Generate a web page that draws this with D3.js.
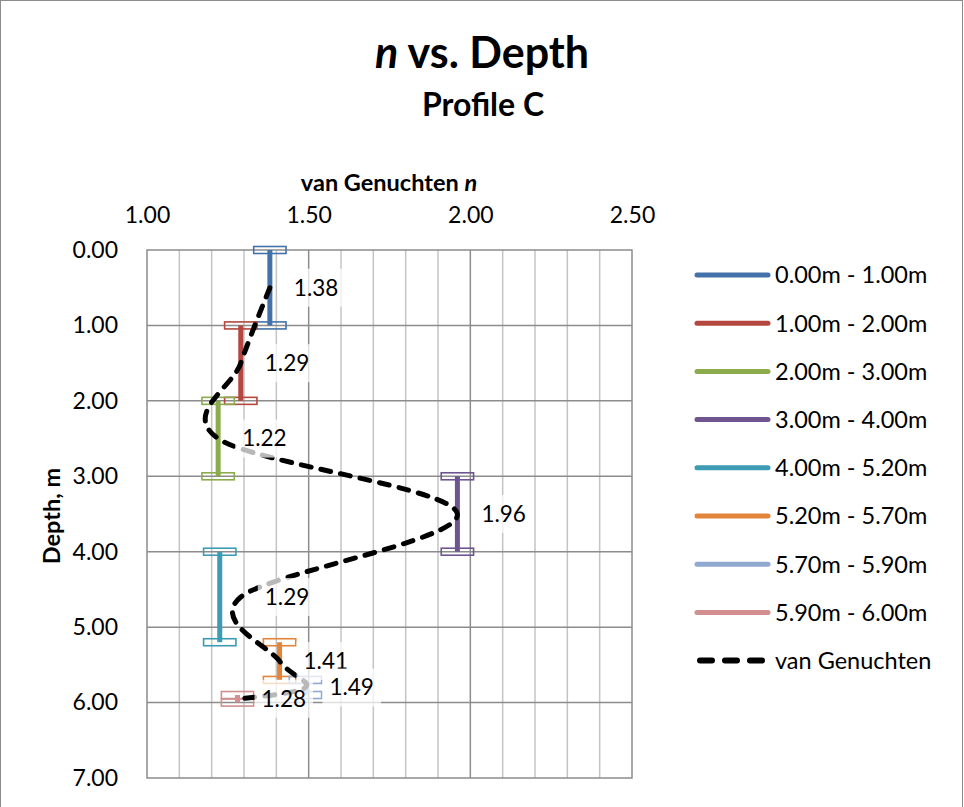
<!DOCTYPE html>
<html>
<head>
<meta charset="utf-8">
<script src="https://cdn.jsdelivr.net/npm/d3@7"></script>
<style>
  body { margin: 0; background: #fff; }
  text { font-family: Lato, "Open Sans", sans-serif; fill: #000; }
</style>
</head>
<body>
<svg id="chart" width="964" height="807"></svg>
<script>

// layers (depth ranges, m) and their n value
var layerNames = ["0.00m - 1.00m", "1.00m - 2.00m", "2.00m - 3.00m", "3.00m - 4.00m",
                  "4.00m - 5.20m", "5.20m - 5.70m", "5.70m - 5.90m", "5.90m - 6.00m"];
var layerTop    = [0.0, 1.0, 2.0, 3.0, 4.0, 5.2, 5.7, 5.9];
var layerBottom = [1.0, 2.0, 3.0, 4.0, 5.2, 5.7, 5.9, 6.0];
var layerN      = [1.38, 1.29, 1.22, 1.96, 1.225, 1.41, 1.49, 1.28];
var labelN      = [1.38, 1.29, 1.22, 1.96, 1.29, 1.41, 1.49, 1.28];
var layerColors = ["#4372aa", "#b4473f", "#8cab4c", "#6e5590", "#3e9bb4", "#e2853a", "#8fa9d1", "#d18f8f"];

// van Genuchten n curve (depth at layer middle)
var vgDepth = [0.5, 1.5, 2.5, 3.5, 4.6, 5.45, 5.8, 5.95];
var vgN     = [1.38, 1.29, 1.22, 1.96, 1.29, 1.41, 1.49, 1.28];

var xTicks = [1.0, 1.5, 2.0, 2.5];
var yTicks = [0, 1, 2, 3, 4, 5, 6, 7];

var svg = d3.select("#chart");

var x = d3.scaleLinear().domain([1, 2.5]).range([147, 632]);
var y = d3.scaleLinear().domain([0, 7]).range([250, 778]);

// frame
svg.append("rect")
  .attr("x", 0.5).attr("y", 0.5)
  .attr("width", 962).attr("height", 812)
  .attr("fill", "none").attr("stroke", "#8c8c8c");

// titles
var title = svg.append("text")
  .attr("x", 482).attr("y", 68)
  .attr("text-anchor", "middle")
  .style("font-size", "43px").style("font-weight", "bold");
title.append("tspan").style("font-style", "italic").text("n");
title.append("tspan").text(" vs. Depth");

svg.append("text")
  .attr("x", 483).attr("y", 116)
  .attr("text-anchor", "middle")
  .style("font-size", "32px").style("font-weight", "bold")
  .text("Profile C");

var xt = svg.append("text")
  .attr("x", 389).attr("y", 191)
  .attr("text-anchor", "middle")
  .style("font-size", "23.5px").style("font-weight", "bold");
xt.append("tspan").text("van Genuchten ");
xt.append("tspan").style("font-style", "italic").text("n");

svg.append("text")
  .attr("transform", "translate(60,516) rotate(-90)")
  .attr("text-anchor", "middle")
  .style("font-size", "23.5px").style("font-weight", "bold")
  .text("Depth, m");

// grid
var grid = svg.append("g");
var minor = d3.range(11, 25).map(function(d) { return d / 10; })
  .filter(function(d) { return Math.abs(d - 1.5) > 0.01 && Math.abs(d - 2.0) > 0.01; });

grid.selectAll("line.minor").data(minor).enter().append("line")
  .attr("x1", function(d) { return x(d); }).attr("x2", function(d) { return x(d); })
  .attr("y1", y(0)).attr("y2", y(7))
  .attr("stroke", "#c4c4c4").attr("stroke-width", 1.5);

grid.selectAll("line.vmajor").data([1.5, 2.0]).enter().append("line")
  .attr("x1", function(d) { return x(d); }).attr("x2", function(d) { return x(d); })
  .attr("y1", y(0)).attr("y2", y(7))
  .attr("stroke", "#8c8c8c").attr("stroke-width", 1.5);

grid.selectAll("line.hmajor").data(yTicks.slice(1, 7)).enter().append("line")
  .attr("x1", x(1)).attr("x2", x(2.5))
  .attr("y1", function(d) { return y(d); }).attr("y2", function(d) { return y(d); })
  .attr("stroke", "#8c8c8c").attr("stroke-width", 1.5);

grid.append("rect")
  .attr("x", x(1)).attr("y", y(0))
  .attr("width", x(2.5) - x(1)).attr("height", y(7) - y(0))
  .attr("fill", "none").attr("stroke", "#8c8c8c").attr("stroke-width", 1.5);

// axes
var fmt = d3.format(".2f");
var xAxisG = svg.append("g")
  .attr("transform", "translate(0," + (y(0) - 24) + ")")
  .call(d3.axisTop(x).tickValues(xTicks).tickFormat(fmt).tickSize(0));
xAxisG.select(".domain").remove();
xAxisG.selectAll("text").style("font-size", "23px").style("font-family", "Lato, sans-serif").attr("fill", "#000");

var yAxisG = svg.append("g")
  .attr("transform", "translate(" + (x(1) - 26) + ",0)")
  .call(d3.axisLeft(y).tickValues(yTicks).tickFormat(fmt).tickSize(0));
yAxisG.select(".domain").remove();
yAxisG.selectAll("text").style("font-size", "23px").style("font-family", "Lato, sans-serif").attr("fill", "#000");

// layer bars
var idx = d3.range(layerNames.length);
var bars = svg.append("g");
var capW = x(1.05) - x(1);

idx.forEach(function(i) {
  var g = bars.append("g");
  g.append("line")
    .attr("x1", x(layerN[i])).attr("x2", x(layerN[i]))
    .attr("y1", y(layerTop[i])).attr("y2", y(layerBottom[i]))
    .attr("stroke", layerColors[i]).attr("stroke-width", 5);
  [layerTop[i], layerBottom[i]].forEach(function(d) {
    g.append("rect")
      .attr("x", x(layerN[i]) - capW).attr("y", y(d) - 3.5)
      .attr("width", capW * 2).attr("height", 7)
      .attr("fill", "none")
      .attr("stroke", layerColors[i]).attr("stroke-width", 1.6);
  });
});

// van Genuchten curve (Excel-like smoothing)
var line = d3.line()
  .x(function(i) { return x(vgN[i]); })
  .y(function(i) { return y(vgDepth[i]); })
  .curve(d3.curveCatmullRom.alpha(0));

svg.append("path")
  .datum(d3.range(vgN.length))
  .attr("d", line)
  .attr("fill", "none")
  .attr("stroke", "#000")
  .attr("stroke-width", 5)
  .attr("stroke-dasharray", "10,10")
  .attr("stroke-linecap", "round");

// data labels
var labels = svg.append("g");
idx.forEach(function(i) {
  var mid = (layerTop[i] + layerBottom[i]) / 2;
  var lx = x(labelN[i]) + 24;
  var g = labels.append("g");
  var bg = g.append("rect");
  var t = g.append("text")
    .attr("x", lx).attr("y", y(mid))
    .attr("dy", "0.35em")
    .style("font-size", "22.5px")
    .text(fmt(labelN[i]));
  var w = t.node().getComputedTextLength();
  bg.attr("x", lx - 7).attr("y", y(mid) - 19)
    .attr("width", w + 14).attr("height", 38)
    .attr("fill", "#fff").attr("fill-opacity", 0.72);
});

// legend
var legend = svg.append("g");
var ly = function(i) { return 275 + i * 48.2; };

idx.forEach(function(i) {
  legend.append("line")
    .attr("x1", 697).attr("x2", 768)
    .attr("y1", ly(i)).attr("y2", ly(i))
    .attr("stroke", layerColors[i]).attr("stroke-width", 5)
    .attr("stroke-linecap", "round");
  legend.append("text")
    .attr("x", 775).attr("y", ly(i)).attr("dy", "0.36em")
    .style("font-size", "23.5px")
    .text(layerNames[i]);
});

legend.append("line")
  .attr("x1", 700).attr("x2", 762)
  .attr("y1", ly(8)).attr("y2", ly(8))
  .attr("stroke", "#000").attr("stroke-width", 6)
  .attr("stroke-dasharray", "12,13")
  .attr("stroke-linecap", "round");
legend.append("text")
  .attr("x", 775).attr("y", ly(8)).attr("dy", "0.36em")
  .style("font-size", "23.5px")
  .text("van Genuchten");

</script>
</body>
</html>
